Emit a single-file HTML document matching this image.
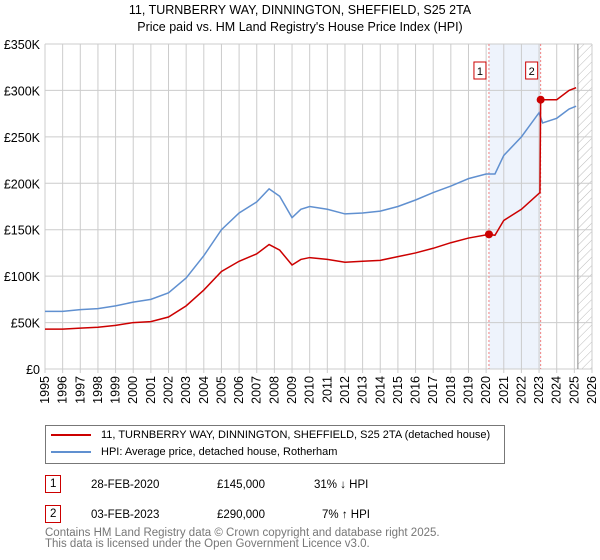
<!DOCTYPE html>
<html><head><meta charset="utf-8"><style>
body{margin:0;width:600px;height:560px;background:#fff;font-family:"Liberation Sans","DejaVu Sans",sans-serif;overflow:hidden;position:relative}
.t{position:absolute;font-size:12.5px;color:#000;white-space:nowrap}
</style></head><body>
<div class="t" style="left:0;width:600px;text-align:center;top:3px">11, TURNBERRY WAY, DINNINGTON, SHEFFIELD, S25 2TA</div>
<div class="t" style="left:0;width:600px;text-align:center;top:20px">Price paid vs. HM Land Registry's House Price Index (HPI)</div>
<svg id="chart" width="600" height="420" style="position:absolute;left:0;top:0" font-family="Liberation Sans, DejaVu Sans, sans-serif" font-size="12.5"></svg>
<div style="position:absolute;left:45px;top:425px;width:458px;height:37px;border:1px solid #777">
 <div style="position:absolute;left:5px;top:3px;font-size:11px;white-space:nowrap"><span style="display:inline-block;width:40px;height:2px;background:#cc0000;vertical-align:middle;margin-right:10px"></span>11, TURNBERRY WAY, DINNINGTON, SHEFFIELD, S25 2TA (detached house)</div>
 <div style="position:absolute;left:5px;top:20px;font-size:11px;white-space:nowrap"><span style="display:inline-block;width:40px;height:2px;background:#6090d0;vertical-align:middle;margin-right:10px"></span>HPI: Average price, detached house, Rotherham</div>
</div>
<div>
<div class="t" style="left:45px;top:475px;border:1px solid #cc0000;padding:2px 4px;font-size:11.5px">1</div>
<div class="t" style="left:91px;top:479px;font-size:11.5px">28-FEB-2020</div>
<div class="t" style="left:217px;top:479px;font-size:11.5px">£145,000</div>
<div class="t" style="left:314px;top:479px;font-size:11.5px">31% ↓ HPI</div></div>
<div>
<div class="t" style="left:45px;top:505px;border:1px solid #cc0000;padding:2px 4px;font-size:11.5px">2</div>
<div class="t" style="left:91px;top:509px;font-size:11.5px">03-FEB-2023</div>
<div class="t" style="left:217px;top:509px;font-size:11.5px">£290,000</div>
<div class="t" style="left:322px;top:509px;font-size:11.5px">7% ↑ HPI</div></div>
<div class="t" style="left:45px;top:528px;font-size:11.5px;color:#777;line-height:11px">Contains HM Land Registry data © Crown copyright and database right 2025.<br>This data is licensed under the Open Government Licence v3.0.</div>
<script>
const hpiYears=[1995,1996,1997,1998,1999,2000,2001,2002,2003,2004,2005,2006,2007,2007.7,2008.3,2009,2009.5,2010,2011,2012,2013,2014,2015,2016,2017,2018,2019,2020,2020.5,2021,2022,2023,2023.2,2024,2024.7,2025.1];
const hpiValues=[62,62,64,65,68,72,75,82,98,122,150,168,180,194,186,163,172,175,172,167,168,170,175,182,190,197,205,210,210,230,250,276,265,270,280,283];
const ppYears=[1995,1996,1997,1998,1999,2000,2001,2002,2003,2004,2005,2006,2007,2007.7,2008.3,2009,2009.5,2010,2011,2012,2013,2014,2015,2016,2017,2018,2019,2020.16,2020.5,2021,2022,2023.05,2023.09,2024,2024.7,2025.1];
const ppValues=[43,43,44,45,47,50,51,56,68,85,105,116,124,134,128,112,118,120,118,115,116,117,121,125,130,136,141,145,144,160,172,190,290,290,300,303];
const yTicks=[0,50,100,150,200,250,300,350];
const yTickLabels=["£0","£50K","£100K","£150K","£200K","£250K","£300K","£350K"];
const xTicks=[1995,1996,1997,1998,1999,2000,2001,2002,2003,2004,2005,2006,2007,2008,2009,2010,2011,2012,2013,2014,2015,2016,2017,2018,2019,2020,2021,2022,2023,2024,2025,2026];
const saleYears=[2020.16,2023.09];const saleValues=[145,290];const saleLabels=["1","2"];
const X0=45,X1=592,Y0=369,Y1=44;
const xs=y=>X0+(y-1995)/(2026-1995)*(X1-X0);
const ys=v=>Y0-v/350*(Y0-Y1);
const svg=document.getElementById('chart');const NS='http://www.w3.org/2000/svg';
function mk(t,a,p){const e=document.createElementNS(NS,t);for(const k in a)e.setAttribute(k,a[k]);(p||svg).appendChild(e);return e;}
let e;
e=mk('rect',{x:xs(saleYears[0]),y:Y1,width:xs(saleYears[1])-xs(saleYears[0]),height:Y0-Y1,fill:'#eef3fc'});


const defs=mk('defs',{});const pat=mk('pattern',{id:'h',width:6,height:6,patternUnits:'userSpaceOnUse',patternTransform:'rotate(45)'},defs);
mk('line',{x1:0,y1:0,x2:0,y2:6,stroke:'#bbb','stroke-width':1},pat);
e=mk('rect',{x:xs(2025.2),y:Y1,width:X1-xs(2025.2),height:Y0-Y1,fill:'url(#h)'});


xTicks.forEach(t=>{e=mk('line',{x1:xs(t),x2:xs(t),y1:Y1,y2:Y0+4,stroke:'#ccc'});


e=mk('text',{x:0,y:0,'text-anchor':'end',transform:'translate('+(xs(t)+4)+',376) rotate(-90)'});e.textContent=t;

});
yTicks.forEach((t,i)=>{e=mk('line',{x1:X0,x2:X1,y1:ys(t),y2:ys(t),stroke:'#ccc'});


e=mk('text',{x:X0-5,y:ys(t)+5,'text-anchor':'end'});e.textContent=yTickLabels[i];

});
e=mk('line',{x1:xs(2025.2),x2:xs(2025.2),y1:Y1,y2:Y0,stroke:'#888'});


saleYears.forEach((s,i)=>{e=mk('line',{x1:xs(s),x2:xs(s),y1:Y1,y2:Y0,stroke:'#f08080','stroke-dasharray':'2,2'});


e=mk('rect',{x:xs(s)-15,y:62,width:12,height:17,fill:'#fff',stroke:'#cc0000'});


e=mk('text',{x:xs(s)-9,y:75,'text-anchor':'middle','font-size':11});e.textContent=saleLabels[i];

});
e=mk('polyline',{points:hpiYears.map((y,i)=>xs(y)+','+ys(hpiValues[i])).join(' '),fill:'none',stroke:'#6090d0','stroke-width':1.5});


e=mk('polyline',{points:ppYears.map((y,i)=>xs(y)+','+ys(ppValues[i])).join(' '),fill:'none',stroke:'#cc0000','stroke-width':1.5});


saleYears.forEach((s,i)=>{e=mk('circle',{cx:xs(s),cy:ys(saleValues[i]),r:4,fill:'#cc0000'});

});
</script>
</body></html>
